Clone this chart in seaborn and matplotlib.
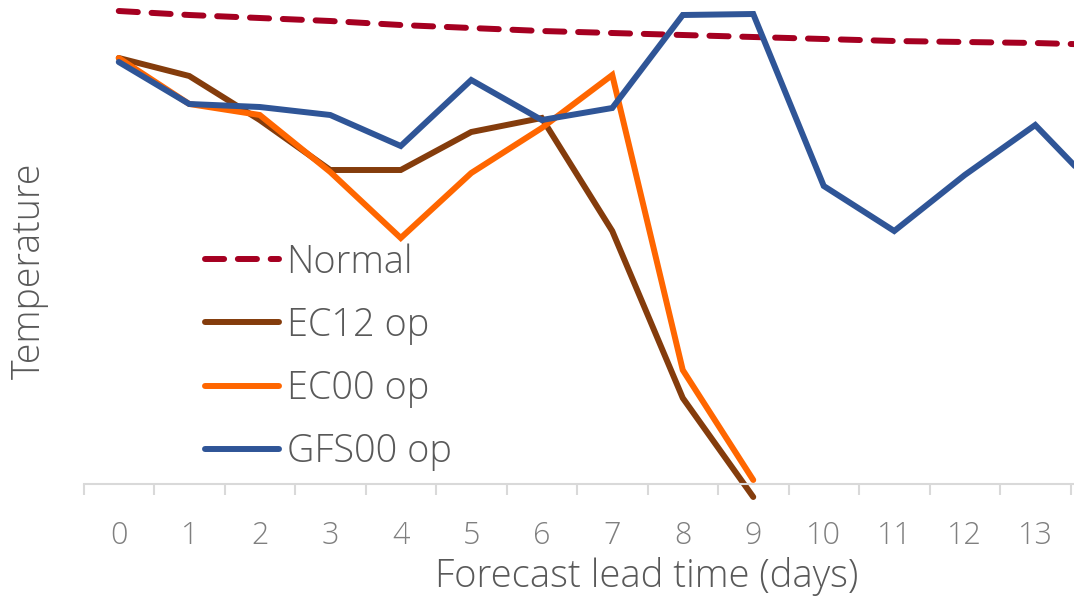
import numpy as np
import pandas as pd
import matplotlib
matplotlib.use("Agg")
import matplotlib.pyplot as plt
from matplotlib.ticker import FixedLocator
import seaborn as sns

days = list(range(15))
tick_days = list(range(14))
normal = [10.0, 9.8, 9.65, 9.5, 9.3, 9.15, 9.0, 8.9, 8.8, 8.7, 8.6, 8.5, 8.45, 8.4, 8.3]
ec12 = [7.65, 6.75, 4.55, 2.05, 2.05, 3.95, 4.65, -1.0, -9.35, -14.3]
ec00 = [7.65, 5.35, 4.8, 1.95, -1.35, 1.9, 4.15, 6.8, -7.95, -13.45]
gfs00 = [7.45, 5.35, 5.2, 4.8, 3.25, 6.55, 4.55, 5.15, 9.8, 9.85, 1.25, -1.0, 1.8, 4.3, 0.65]
series_names = ["Normal", "EC12 op", "EC00 op", "GFS00 op"]
colors = {"Normal": "#A50021", "EC12 op": "#843C0C", "EC00 op": "#FF6600", "GFS00 op": "#2F5597"}

rows = []
for name, vals in zip(series_names, [normal, ec12, ec00, gfs00]):
    for d, v in zip(days, vals):
        rows.append({"day": d, "temp": v, "series": name})
df = pd.DataFrame(rows)

sns.set_theme(style="white")
plt.rcParams['font.family'] = ['Open Sans', 'DejaVu Sans']

fig = plt.figure(figsize=(10.74, 6.0), dpi=100)
ax = fig.add_axes([83.5 / 1074, 116 / 600, 15 * 70.5 / 1074, 484 / 600])

sns.lineplot(data=df, x="day", y="temp", hue="series", style="series",
             hue_order=series_names, style_order=series_names,
             palette=colors,
             dashes={"Normal": (3.2, 2.3), "EC12 op": "", "EC00 op": "", "GFS00 op": ""},
             linewidth=4.3, ax=ax, legend=True, estimator=None, sort=False)

for line in ax.get_lines():
    line.set_clip_on(False)
    line.set_solid_capstyle("round")
    line.set_dash_capstyle("round")
    line.set_solid_joinstyle("miter")

ax.set_xlim(-0.5, 14.5)
ax.set_ylim(-13.65, 10.55)
ax.set_yticks([])
ax.set_xticks(tick_days)
ax.set_xticklabels([str(d) for d in tick_days])
ax.xaxis.set_minor_locator(FixedLocator(np.arange(-0.5, 15, 1)))
ax.tick_params(axis="x", which="major", length=0, pad=26, labelsize=22, labelcolor="#7F7F7F")
ax.tick_params(axis="x", which="minor", length=8, width=1.5, color="#D9D9D9", bottom=True)
for lab in ax.get_xticklabels():
    lab.set_fontweight("light")

for s in ["top", "right", "left"]:
    ax.spines[s].set_visible(False)
ax.spines["bottom"].set_color("#D9D9D9")
ax.spines["bottom"].set_linewidth(1.5)

ax.set_xlabel("")
ax.set_ylabel("")
fig.text(647 / 1074, 1 - 576 / 600, "Forecast lead time (days)", ha="center", va="center",
         fontsize=27.5, color="#595959", fontweight="light")
fig.text(30 / 1074, 1 - 271 / 600, "Temperature", ha="center", va="center", rotation=90,
         fontsize=27, color="#595959", fontweight="light")

handles, labels = ax.get_legend_handles_labels()
if ax.legend_:
    ax.legend_.remove()
leg = fig.legend(handles, labels, loc="center left", bbox_to_anchor=(205 / 1074, 1 - 357 / 600),
                 frameon=False, fontsize=27.3, handlelength=1.95, handletextpad=0.2,
                 labelspacing=0.65, borderpad=0, borderaxespad=0)
for t in leg.get_texts():
    t.set_color("#595959")
    t.set_fontweight("light")
for h in leg.get_lines():
    h.set_linewidth(4.3)
    h.set_solid_capstyle("round")
    h.set_dash_capstyle("round")

fig.savefig("out.png", dpi=100)
